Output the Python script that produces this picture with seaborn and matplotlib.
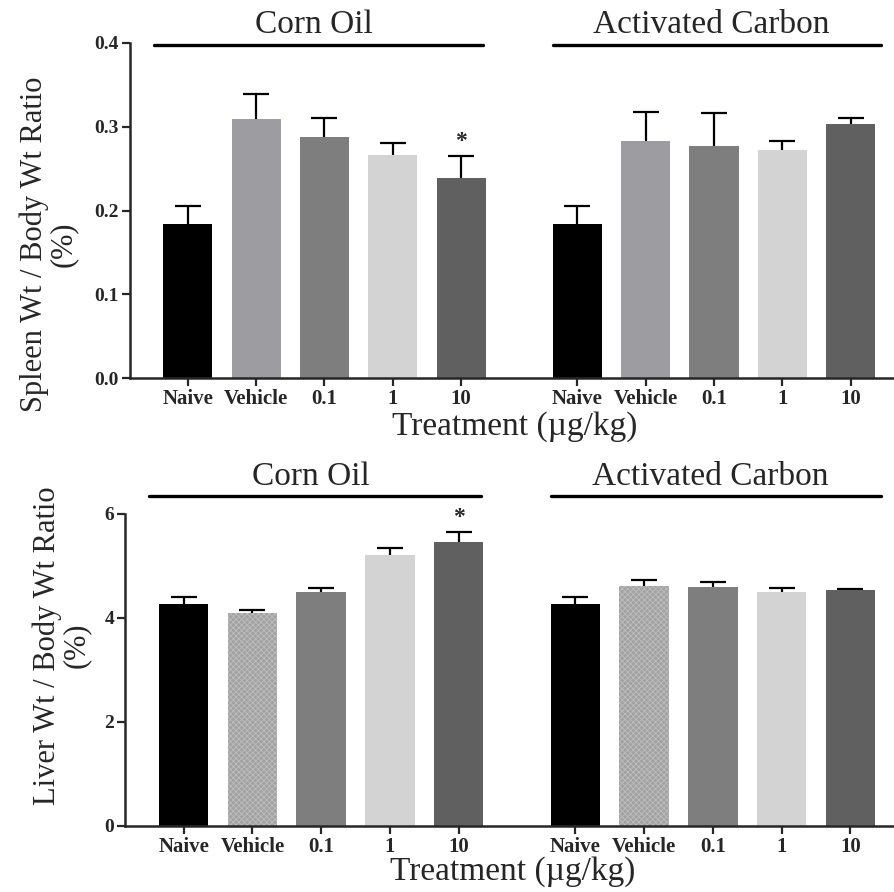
import matplotlib
matplotlib.use("Agg")
import matplotlib.pyplot as plt
import seaborn as sb
import pandas as pd
import numpy as np

# treatments, in plotting order within each vehicle group
treatments = ["Naive", "Vehicle", "0.1", "1", "10"]
groups = ["Corn Oil", "Activated Carbon"]

# spleen wt / body wt ratio (%), mean and SEM
spleen_corn = [0.184, 0.309, 0.288, 0.266, 0.239]
spleen_corn_sem = [0.021, 0.030, 0.022, 0.015, 0.026]
spleen_carbon = [0.184, 0.283, 0.277, 0.272, 0.303]
spleen_carbon_sem = [0.021, 0.034, 0.039, 0.011, 0.007]

# liver wt / body wt ratio (%), mean and SEM
liver_corn = [4.27, 4.09, 4.50, 5.20, 5.45]
liver_corn_sem = [0.13, 0.05, 0.08, 0.14, 0.20]
liver_carbon = [4.27, 4.62, 4.59, 4.50, 4.53]
liver_carbon_sem = [0.13, 0.10, 0.09, 0.07, 0.03]

# significant bars: (group, treatment)
spleen_sig = [("Corn Oil", "10")]
liver_sig = [("Corn Oil", "10")]

colors = {"Naive": "#000000", "Vehicle": "#9d9ca1", "0.1": "#7e7e7e",
          "1": "#d3d3d3", "10": "#606060"}

GROUP_GAP = 5.7


def make_frame(corn, corn_sem, carbon, carbon_sem):
    rows = []
    for g, (vals, sems) in enumerate([(corn, corn_sem), (carbon, carbon_sem)]):
        for i, t in enumerate(treatments):
            rows.append({"group": groups[g], "treatment": t,
                         "pos": g * GROUP_GAP + i, "value": vals[i], "sem": sems[i]})
    return pd.DataFrame(rows)


def bar_panel(ax, df, ylabel, yticks, sig, line_y, text_y, label_xy, xlabel_y,
              hatch_vehicle=False):
    sb.barplot(data=df, x="pos", y="value", hue="treatment", palette=colors,
               native_scale=True, dodge=False, legend=False, width=0.72,
               errorbar=None, saturation=1, linewidth=0, ax=ax)
    if hatch_vehicle:
        for p in ax.patches:
            if np.allclose(p.get_facecolor()[:3], matplotlib.colors.to_rgb(colors["Vehicle"])):
                p.set_facecolor("#a2a2a2")
                p.set_hatch("xxxxxx")
                p.set_edgecolor("#bdbdbd")
                p.set_linewidth(0)
    eb = ax.errorbar(df["pos"], df["value"], yerr=[np.zeros(len(df)), df["sem"]],
                     fmt="none", ecolor="black", elinewidth=1.6, capsize=9.5,
                     capthick=1.6, zorder=1)
    eb[1][0].set_visible(False)  # no cap at the bar top
    for p in ax.patches:
        p.set_zorder(2)

    for g, t in sig:
        row = df[(df["group"] == g) & (df["treatment"] == t)].iloc[0]
        ax.annotate("*", (row["pos"], row["value"] + row["sem"]),
                    xytext=(0, 3), textcoords="offset points", ha="center",
                    va="bottom", fontsize=17, fontweight="bold")

    ax.set_xlim(-0.85, 10.35)
    ax.set_ylim(yticks[0], yticks[-1])
    ax.set_yticks(yticks)
    ax.set_xticks(df["pos"])
    ax.set_xticklabels(df["treatment"], fontweight="bold", fontsize=15)
    for lab in ax.get_yticklabels():
        lab.set_fontweight("bold")
        lab.set_fontsize(14)
    ax.tick_params(axis="both", direction="out", length=6, width=1.6, pad=2)
    for s in ["left", "bottom"]:
        ax.spines[s].set_linewidth(1.8)
    sb.despine(ax=ax)

    ax.set_ylabel(ylabel, fontsize=22, linespacing=1.0)
    ax.yaxis.set_label_coords(*label_xy)
    ax.set_xlabel("Treatment (\u00b5g/kg)", fontsize=24, va="top")
    ax.xaxis.set_label_coords(0.503, xlabel_y)

    trans = ax.get_xaxis_transform()
    for g, (x0, x1), xt in zip(groups, [(-0.5, 4.32), (5.35, 10.15)], [1.85, 7.66]):
        ax.plot([x0, x1], [line_y, line_y], color="black", lw=2.4,
                transform=trans, clip_on=False)
        ax.text(xt, text_y, g, ha="center", va="baseline",
                fontsize=24, transform=trans)


sb.set_style("ticks")
plt.rcParams["font.family"] = ["Liberation Serif", "DejaVu Serif"]
plt.rcParams["hatch.linewidth"] = 0.6

fig = plt.figure(figsize=(8.95, 8.92), dpi=100)
ax1 = fig.add_axes([0.145, 0.576, 0.855, 0.376])
ax2 = fig.add_axes([0.14, 0.0743, 0.86, 0.3497])

spleen = make_frame(spleen_corn, spleen_corn_sem, spleen_carbon, spleen_carbon_sem)
liver = make_frame(liver_corn, liver_corn_sem, liver_carbon, liver_carbon_sem)

bar_panel(ax1, spleen, "Spleen Wt / Body Wt Ratio\n(%)", [0.0, 0.1, 0.2, 0.3, 0.4],
          spleen_sig, 0.994, 1.03, (-0.068, 0.40), -0.098)
bar_panel(ax2, liver, "Liver Wt / Body Wt Ratio\n(%)", [0, 2, 4, 6],
          liver_sig, 1.058, 1.092, (-0.045, 0.577), -0.098, hatch_vehicle=True)

fig.savefig("out.png", dpi=100)
